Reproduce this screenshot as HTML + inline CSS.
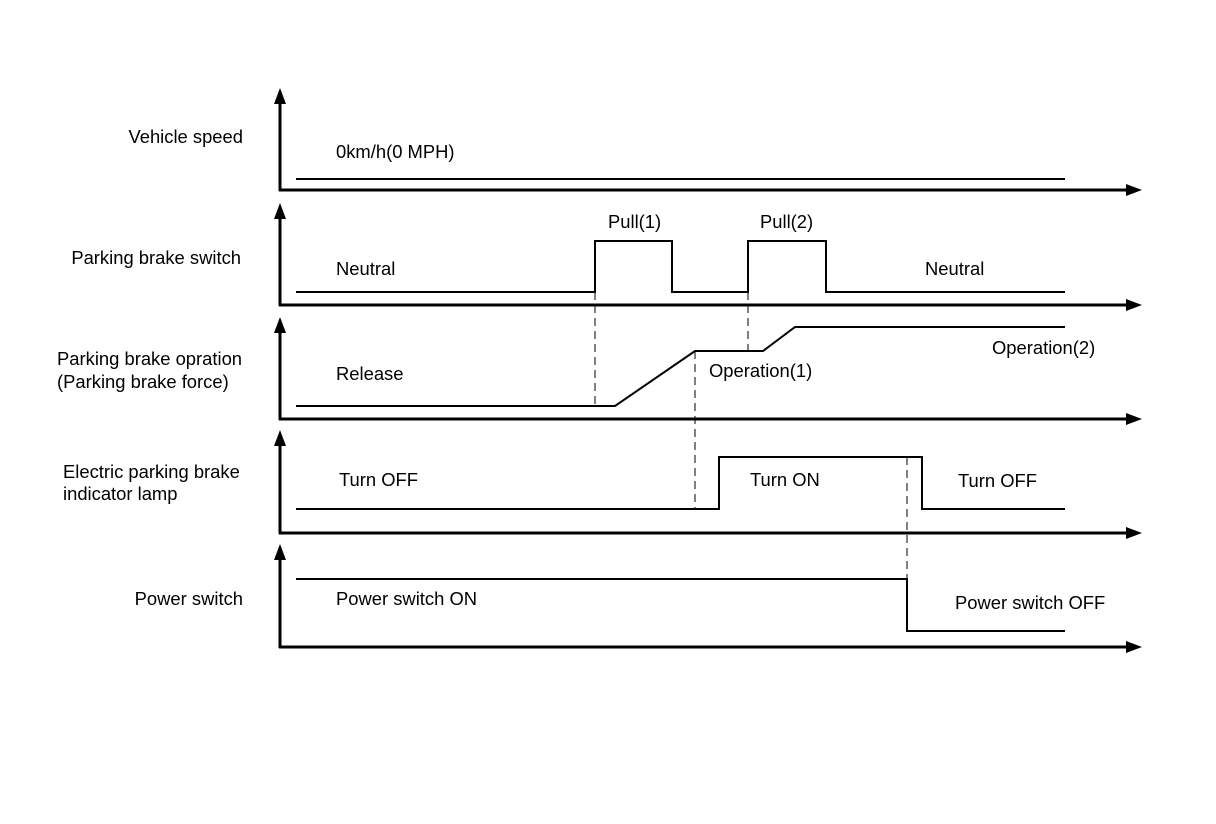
<!DOCTYPE html>
<html><head><style>body{margin:0;background:#fff}svg{display:block}text{font-family:"Liberation Sans",Arial,sans-serif;font-size:18.4px;fill:#000}</style></head>
<body>
<svg width="1216" height="824" viewBox="0 0 1216 824" xmlns="http://www.w3.org/2000/svg">
<g stroke="#000" stroke-width="3" fill="none">
<line x1="280" y1="100" x2="280" y2="191"/><line x1="279" y1="190" x2="1130" y2="190"/>
<line x1="280" y1="215" x2="280" y2="306"/><line x1="279" y1="305" x2="1130" y2="305"/>
<line x1="280" y1="330" x2="280" y2="420"/><line x1="279" y1="419" x2="1130" y2="419"/>
<line x1="280" y1="443" x2="280" y2="534"/><line x1="279" y1="533" x2="1130" y2="533"/>
<line x1="280" y1="557" x2="280" y2="648"/><line x1="279" y1="647" x2="1130" y2="647"/>
</g>
<g fill="#000">
<polygon points="280,88 274,104 286,104"/><polygon points="280,203 274,219 286,219"/><polygon points="280,317 274,333 286,333"/><polygon points="280,430 274,446 286,446"/><polygon points="280,544 274,560 286,560"/>
<polygon points="1142,190 1126,184 1126,196"/><polygon points="1142,305 1126,299 1126,311"/><polygon points="1142,419 1126,413 1126,425"/><polygon points="1142,533 1126,527 1126,539"/><polygon points="1142,647 1126,641 1126,653"/>
</g>
<g stroke="#000" stroke-width="2" fill="none">
<polyline points="296,179 1065,179"/>
<polyline points="296,292 595,292 595,241 672,241 672,292 748,292 748,241 826,241 826,292 1065,292"/>
<polyline points="296,406 615,406 695,351 763,351 795,327 1065,327"/>
<polyline points="296,509 719,509 719,457 922,457 922,509 1065,509"/>
<polyline points="296,579 907,579 907,631 1065,631"/>
</g>
<g stroke="#000" stroke-width="1" stroke-dasharray="8,5" fill="none">
<line x1="595" y1="292" x2="595" y2="406"/><line x1="748" y1="292" x2="748" y2="351"/>
<line x1="695" y1="351" x2="695" y2="509"/><line x1="907" y1="457" x2="907" y2="631"/>
</g>
<text x="243" y="143" text-anchor="end">Vehicle speed</text>
<text x="241" y="264" text-anchor="end">Parking brake switch</text>
<text x="57" y="365">Parking brake opration</text>
<text x="57" y="388">(Parking brake force)</text>
<text x="63" y="478">Electric parking brake</text>
<text x="63" y="500">indicator lamp</text>
<text x="243" y="605" text-anchor="end">Power switch</text>
<text x="336" y="158">0km/h(0 MPH)</text>
<text x="336" y="275">Neutral</text>
<text x="608" y="228">Pull(1)</text>
<text x="760" y="228">Pull(2)</text>
<text x="925" y="275">Neutral</text>
<text x="336" y="380">Release</text>
<text x="709" y="377">Operation(1)</text>
<text x="992" y="354">Operation(2)</text>
<text x="339" y="486">Turn OFF</text>
<text x="750" y="486">Turn ON</text>
<text x="958" y="487">Turn OFF</text>
<text x="336" y="605">Power switch ON</text>
<text x="955" y="609">Power switch OFF</text>
</svg>
</body></html>
